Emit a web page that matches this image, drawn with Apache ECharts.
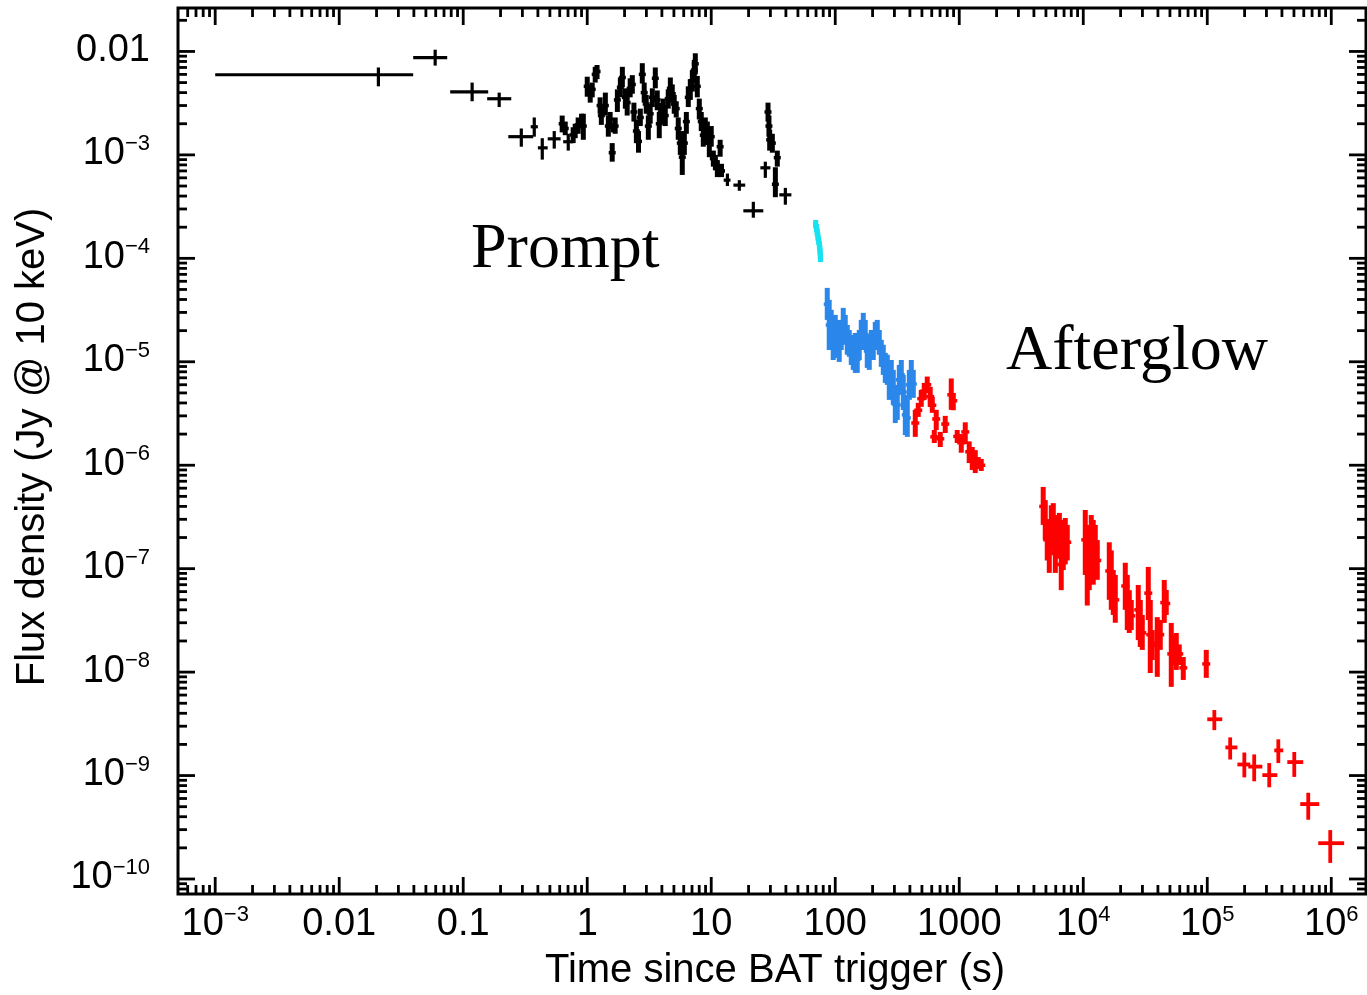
<!DOCTYPE html>
<html>
<head>
<meta charset="utf-8">
<script src="https://cdn.jsdelivr.net/npm/echarts@6/dist/echarts.min.js"></script>
<style>
  html, body { margin: 0; padding: 0; background: #fff; }
  #chart { width: 1367px; height: 995px; }
</style>
</head>
<body>
<div id="chart"></div>
<script>
// Binned points: [time, timeLow, timeHigh, flux, fluxLow, fluxHigh]
const promptBins = [
  [0.0207, 0.001, 0.0395, 5.95e-3, 4.6e-3, 7.0e-3],
  [0.0594, 0.0395, 0.0743, 8.7e-3, 7.3e-3, 1.04e-2],
  [0.118, 0.0785, 0.159, 4.07e-3, 3.3e-3, 5.0e-3],
  [0.195, 0.156, 0.244, 3.49e-3, 2.9e-3, 4.0e-3],
  [0.294, 0.231, 0.367, 1.50e-3, 1.2e-3, 1.8e-3],
  [0.374, 0.35, 0.40, 1.87e-3, 1.5e-3, 2.3e-3],
  [0.434, 0.40, 0.48, 1.17e-3, 0.9e-3, 1.45e-3],
  [0.542, 0.48, 0.61, 1.43e-3, 1.15e-3, 1.7e-3],
  [0.703, 0.64, 0.77, 1.34e-3, 1.1e-3, 1.6e-3],
  [13.5, 12.6, 14.3, 5.7e-4, 5.0e-4, 6.6e-4],
  [16.85, 15.1, 18.8, 5.1e-4, 4.5e-4, 5.7e-4],
  [21.85, 18.15, 26.3, 2.88e-4, 2.47e-4, 3.52e-4],
  [27.3, 24.9, 30.0, 7.5e-4, 6.0e-4, 8.6e-4],
  [39.6, 35.4, 44.3, 4.11e-4, 3.3e-4, 4.8e-4]
];

// Fine time resolution points: [time, flux, fluxLow, fluxHigh]
const promptFine = [
  [0.628, 2.0e-3, 1.65e-3, 2.4e-3], [0.665, 1.8e-3, 1.55e-3, 2.1e-3],
  [0.77, 1.56e-3, 1.30e-3, 1.85e-3], [0.80, 1.75e-3, 1.45e-3, 2.0e-3],
  [0.845, 1.95e-3, 1.6e-3, 2.3e-3], [0.90, 2.1e-3, 1.8e-3, 2.5e-3],
  [0.93, 1.9e-3, 1.4e-3, 2.5e-3], [1.00, 4.6e-3, 3.65e-3, 5.7e-3],
  [1.057, 3.9e-3, 3.2e-3, 4.6e-3], [1.097, 4.3e-3, 3.6e-3, 5.0e-3],
  [1.16, 6.0e-3, 5.0e-3, 7.1e-3], [1.20, 6.4e-3, 5.4e-3, 7.4e-3],
  [1.27, 3.0e-3, 2.5e-3, 3.6e-3], [1.30, 2.4e-3, 1.95e-3, 2.9e-3],
  [1.40, 3.0e-3, 2.4e-3, 4.0e-3], [1.48, 1.9e-3, 1.5e-3, 2.4e-3],
  [1.53, 2.2e-3, 1.8e-3, 2.6e-3], [1.59, 1.05e-3, 8.6e-4, 1.3e-3],
  [1.62, 1.85e-3, 1.65e-3, 2.05e-3], [1.68, 1.9e-3, 1.6e-3, 2.3e-3],
  [1.75, 3.4e-3, 2.6e-3, 4.3e-3], [1.85, 4.5e-3, 3.6e-3, 5.6e-3],
  [1.92, 5.6e-3, 4.5e-3, 7.1e-3], [2.03, 3.6e-3, 2.8e-3, 4.4e-3],
  [2.10, 3.2e-3, 2.4e-3, 4.2e-3], [2.22, 4.4e-3, 3.6e-3, 5.5e-3],
  [2.31, 4.8e-3, 3.9e-3, 5.9e-3], [2.38, 2.6e-3, 2.1e-3, 3.2e-3],
  [2.49, 1.7e-3, 1.3e-3, 2.2e-3], [2.59, 1.35e-3, 1.05e-3, 1.7e-3],
  [2.68, 2.3e-3, 1.9e-3, 2.8e-3], [2.78, 6.0e-3, 4.9e-3, 7.7e-3],
  [2.88, 4.0e-3, 3.2e-3, 5.0e-3], [2.99, 3.1e-3, 2.5e-3, 3.8e-3],
  [3.11, 1.9e-3, 1.4e-3, 2.4e-3], [3.22, 2.5e-3, 2.0e-3, 3.1e-3],
  [3.35, 3.6e-3, 2.9e-3, 4.4e-3], [3.54, 5.5e-3, 4.4e-3, 7.0e-3],
  [3.67, 3.4e-3, 2.7e-3, 4.2e-3], [3.81, 2.0e-3, 1.45e-3, 2.6e-3],
  [3.96, 2.6e-3, 2.0e-3, 3.2e-3], [4.11, 2.9e-3, 2.3e-3, 3.5e-3],
  [4.26, 2.4e-3, 1.9e-3, 3.0e-3], [4.50, 3.5e-3, 2.8e-3, 4.3e-3],
  [4.68, 4.4e-3, 3.6e-3, 5.6e-3], [4.85, 3.9e-3, 3.2e-3, 4.8e-3],
  [5.03, 3.1e-3, 2.5e-3, 3.8e-3], [5.22, 2.8e-3, 2.3e-3, 3.3e-3],
  [5.42, 1.8e-3, 1.4e-3, 2.3e-3], [5.63, 1.3e-3, 1.0e-3, 1.7e-3],
  [5.84, 9.5e-4, 6.4e-4, 1.3e-3], [6.07, 1.3e-3, 1.0e-3, 1.7e-3],
  [6.30, 2.1e-3, 1.6e-3, 2.6e-3], [6.53, 3.6e-3, 2.9e-3, 4.6e-3],
  [6.78, 4.3e-3, 3.4e-3, 5.4e-3], [7.04, 5.2e-3, 4.1e-3, 6.6e-3],
  [7.30, 6.6e-3, 5.2e-3, 8.3e-3], [7.44, 7.6e-3, 6.0e-3, 9.6e-3],
  [7.72, 4.6e-3, 3.6e-3, 5.8e-3], [8.01, 2.8e-3, 2.2e-3, 3.5e-3],
  [8.31, 2.1e-3, 1.7e-3, 2.6e-3], [8.63, 1.55e-3, 1.2e-3, 1.9e-3],
  [8.96, 1.9e-3, 1.5e-3, 2.3e-3], [9.30, 1.65e-3, 1.25e-3, 2.1e-3],
  [9.65, 1.3e-3, 9.5e-4, 1.7e-3], [10.0, 1.5e-3, 1.2e-3, 1.9e-3],
  [10.4, 9.2e-4, 7.7e-4, 1.1e-3], [10.8, 8.5e-4, 7.1e-4, 1.0e-3],
  [11.2, 7.4e-4, 6.1e-4, 8.9e-4], [11.8, 1.2e-3, 9.6e-4, 1.4e-3],
  [12.1, 7.0e-4, 6.1e-4, 8.2e-4], [28.7, 2.6e-3, 2.1e-3, 3.2e-3],
  [29.2, 1.9e-3, 1.5e-3, 2.4e-3], [29.6, 1.4e-3, 1.1e-3, 1.75e-3],
  [31.1, 1.3e-3, 1.05e-3, 1.6e-3], [32.9, 5.2e-4, 3.9e-4, 7.6e-4],
  [34.1, 9.4e-4, 7.7e-4, 1.1e-3]
];

// XRT windowed timing, settling phase: [time, flux, fluxLow, fluxHigh]
const wtSettling = [
  [69.5, 2.15e-4, 1.95e-4, 2.35e-4], [70.5, 1.97e-4, 1.8e-4, 2.15e-4],
  [71.5, 1.80e-4, 1.64e-4, 1.97e-4], [72.5, 1.62e-4, 1.48e-4, 1.78e-4],
  [73.5, 1.48e-4, 1.35e-4, 1.62e-4], [74.5, 1.35e-4, 1.23e-4, 1.48e-4],
  [75.2, 1.22e-4, 1.11e-4, 1.34e-4], [75.7, 1.10e-4, 1.0e-4, 1.21e-4],
  [76.0, 1.0e-4, 9.2e-5, 1.09e-4]
];

// XRT windowed timing: [time, flux, fluxLow, fluxHigh]
const wtData = [
  [86.2, 3.6e-5, 2.54e-5, 5.18e-5], [89.4, 2.27e-5, 1.30e-5, 3.97e-5],
  [92.8, 2.15e-5, 1.46e-5, 3.18e-5], [96.3, 1.63e-5, 1.04e-5, 2.54e-5],
  [100.0, 2.03e-5, 1.46e-5, 2.84e-5], [103.8, 1.49e-5, 1.09e-5, 2.03e-5],
  [107.7, 1.6e-5, 9.97e-6, 2.54e-5], [111.8, 1.74e-5, 1.30e-5, 2.27e-5],
  [116.0, 2.43e-5, 1.74e-5, 3.32e-5], [120.4, 2.03e-5, 1.46e-5, 2.84e-5],
  [125.0, 1.63e-5, 1.17e-5, 2.27e-5], [129.7, 1.52e-5, 1.12e-5, 2.03e-5],
  [134.6, 1.30e-5, 9.33e-6, 1.82e-5], [139.7, 1.17e-5, 8.35e-6, 1.63e-5],
  [145.0, 1.22e-5, 7.81e-6, 1.90e-5], [150.5, 1.06e-5, 7.81e-6, 1.46e-5],
  [156.2, 1.46e-5, 1.04e-5, 2.03e-5], [162.1, 1.82e-5, 1.30e-5, 2.54e-5],
  [168.3, 2.12e-5, 1.52e-5, 2.97e-5], [174.6, 1.82e-5, 1.30e-5, 2.54e-5],
  [181.2, 1.27e-5, 8.73e-6, 1.82e-5], [188.1, 1.17e-5, 8.35e-6, 1.63e-5],
  [195.2, 1.49e-5, 1.09e-5, 2.03e-5], [202.6, 1.43e-5, 1.04e-5, 1.90e-5],
  [210.3, 1.78e-5, 1.30e-5, 2.43e-5], [218.2, 1.82e-5, 1.30e-5, 2.54e-5],
  [226.5, 1.56e-5, 1.17e-5, 2.03e-5], [235.1, 1.22e-5, 8.93e-6, 1.63e-5],
  [244.0, 1.04e-5, 7.47e-6, 1.46e-5], [253.2, 8.73e-6, 6.25e-6, 1.22e-5],
  [262.8, 8.35e-6, 5.98e-6, 1.17e-5], [272.7, 6.4e-6, 4.28e-6, 9.33e-6],
  [283.1, 7.1e-6, 4.78e-6, 1.04e-5], [293.8, 5.7e-6, 3.83e-6, 8.35e-6],
  [304.9, 3.9e-6, 2.56e-6, 5.98e-6], [316.4, 3.83e-6, 2.74e-6, 5.35e-6],
  [328.4, 6.7e-6, 4.78e-6, 9.33e-6], [340.9, 7.47e-6, 5.35e-6, 1.04e-5],
  [353.8, 5.1e-6, 3.42e-6, 7.47e-6], [367.2, 3.07e-6, 1.96e-6, 4.78e-6],
  [381.1, 2.87e-6, 1.88e-6, 4.28e-6], [395.5, 5.98e-6, 4.28e-6, 8.35e-6],
  [410.5, 7.1e-6, 4.78e-6, 1.04e-5], [426.0, 6.1e-6, 4.48e-6, 8.35e-6]
];

// XRT photon counting, fine bins: [time, flux, fluxLow, fluxHigh]
const pcFine = [
  [442, 2.56e-6, 1.88e-6, 3.43e-6], [467, 3.4e-6, 2.93e-6, 4.01e-6],
  [494, 4.4e-6, 3.67e-6, 5.35e-6], [522, 5.2e-6, 4.28e-6, 6.25e-6],
  [552, 6.0e-6, 5.0e-6, 7.2e-6], [583, 4.6e-6, 3.67e-6, 5.72e-6],
  [606, 3.8e-6, 3.21e-6, 4.58e-6], [629, 1.88e-6, 1.64e-6, 2.19e-6],
  [652, 2.8e-6, 2.19e-6, 3.43e-6], [703, 1.8e-6, 1.5e-6, 2.1e-6],
  [771, 2.5e-6, 2.05e-6, 3.0e-6], [862, 4.8e-6, 3.43e-6, 6.9e-6],
  [895, 4.2e-6, 3.4e-6, 5.0e-6], [963, 1.9e-6, 1.64e-6, 2.19e-6],
  [1038, 1.65e-6, 1.32e-6, 2.0e-6], [1118, 2.1e-6, 1.6e-6, 2.6e-6],
  [1203, 1.35e-6, 1.05e-6, 1.7e-6], [1273, 1.2e-6, 9.0e-7, 1.5e-6],
  [1346, 1.1e-6, 8.4e-7, 1.4e-6], [1422, 1.05e-6, 9.2e-7, 1.2e-6],
  [1505, 1.0e-6, 8.8e-7, 1.15e-6],
  [4753, 4.0e-7, 2.65e-7, 6.17e-7], [4937, 2.9e-7, 1.89e-7, 4.6e-7],
  [5125, 1.9e-7, 1.2e-7, 2.96e-7], [5321, 1.45e-7, 9.1e-8, 2.37e-7],
  [5524, 2.5e-7, 1.5e-7, 4.1e-7], [5734, 2.7e-7, 1.7e-7, 4.3e-7],
  [5953, 1.4e-7, 9.1e-8, 2.1e-7], [6180, 2.1e-7, 1.25e-7, 3.3e-7],
  [6415, 2.2e-7, 1.38e-7, 3.46e-7], [6645, 1.1e-7, 6.2e-8, 1.89e-7],
  [6897, 1.6e-7, 9.7e-8, 2.96e-7], [7161, 1.8e-7, 1.1e-7, 3.09e-7],
  [7430, 1.8e-7, 1.2e-7, 2.65e-7],
  [10380, 1.9e-7, 8.7e-8, 3.69e-7], [10770, 1.1e-7, 4.4e-8, 2.65e-7],
  [11180, 1.2e-7, 6.2e-8, 2.37e-7], [11600, 1.6e-7, 7.8e-8, 3.3e-7],
  [12040, 1.5e-7, 7.0e-8, 2.96e-7], [12500, 1.6e-7, 9.7e-8, 2.65e-7],
  [12970, 1.2e-7, 7.8e-8, 1.89e-7],
  [16210, 9.5e-8, 5.0e-8, 1.8e-7], [16820, 7.5e-8, 4.0e-8, 1.5e-7],
  [17460, 5.8e-8, 3.57e-8, 9.7e-8], [18120, 5.0e-8, 3.0e-8, 8.7e-8],
  [21820, 6.8e-8, 4.0e-8, 1.14e-7], [22640, 5.0e-8, 2.55e-8, 8.7e-8],
  [23500, 3.9e-8, 2.39e-8, 6.2e-8], [24380, 3.5e-8, 2.55e-8, 4.98e-8],
  [27760, 4.0e-8, 2.04e-8, 6.96e-8], [28820, 3.0e-8, 1.75e-8, 4.98e-8],
  [29910, 2.4e-8, 1.64e-8, 3.57e-8],
  [33440, 5.8e-8, 3.19e-8, 1.04e-7], [34700, 2.3e-8, 9.8e-9, 4.98e-8],
  [36010, 1.9e-8, 1.31e-8, 2.55e-8], [39520, 1.8e-8, 9.0e-9, 3.4e-8],
  [41780, 2.3e-8, 1.64e-8, 3.19e-8], [44990, 4.7e-8, 2.99e-8, 7.78e-8],
  [46690, 4.6e-8, 3.57e-8, 6.22e-8], [51250, 1.5e-8, 7.2e-9, 2.99e-8],
  [53190, 1.6e-8, 1.17e-8, 2.28e-8], [56250, 1.5e-8, 1.05e-8, 2.39e-8],
  [59450, 1.5e-8, 1.17e-8, 1.85e-8], [64050, 1.1e-8, 8.4e-9, 1.4e-8],
  [98150, 1.2e-8, 8.8e-9, 1.64e-8]
];

// XRT photon counting, late wide bins: [time, timeLow, timeHigh, flux, fluxLow, fluxHigh]
const pcBins = [
  [1.14e5, 1.0e5, 1.32e5, 3.5e-9, 2.75e-9, 4.3e-9],
  [1.53e5, 1.40e5, 1.75e5, 1.87e-9, 1.43e-9, 2.34e-9],
  [1.99e5, 1.75e5, 2.22e5, 1.28e-9, 9.6e-10, 1.67e-9],
  [2.39e5, 2.14e5, 2.78e5, 1.22e-9, 8.8e-10, 1.60e-9],
  [3.16e5, 2.78e5, 3.67e5, 1.01e-9, 7.7e-10, 1.32e-9],
  [3.74e5, 3.47e5, 4.10e5, 1.75e-9, 1.32e-9, 2.24e-9],
  [5.03e5, 4.42e5, 5.94e5, 1.35e-9, 9.7e-10, 1.69e-9],
  [6.52e5, 5.62e5, 8.0e5, 5.3e-10, 3.74e-10, 6.82e-10],
  [9.81e5, 7.85e5, 1.27e6, 2.22e-10, 1.43e-10, 2.97e-10]
];

// Axis ranges and labelled ticks
const xRange = [Math.pow(10, -3.3), Math.pow(10, 6.28)];
const yRange = [Math.pow(10, -10.145), Math.pow(10, -1.58)];
const xMajor = [1e-3, 1e-2, 0.1, 1, 10, 100, 1000, 1e4, 1e5, 1e6];
const xTickLabels = ['10^−3', '0.01', '0.1', '1', '10', '100', '1000', '10^4', '10^5', '10^6'];
const yMajor = [1e-2, 1e-3, 1e-4, 1e-5, 1e-6, 1e-7, 1e-8, 1e-9, 1e-10];
const yTickLabels = ['0.01', '10^−3', '10^−4', '10^−5', '10^−6', '10^−7', '10^−8', '10^−9', '10^−10'];

const FONT = "'Liberation Sans', Arial, Helvetica, sans-serif";
const SERIF = "'Liberation Serif', 'Times New Roman', serif";

// Minor log ticks (2..9 x 10^n) that fall inside an axis range
function minorTicks(range) {
  const out = [];
  const d0 = Math.floor(Math.log10(range[0])), d1 = Math.ceil(Math.log10(range[1]));
  for (let d = d0; d <= d1; d++) {
    for (let m = 2; m <= 9; m++) {
      const v = m * Math.pow(10, d);
      if (v > range[0] && v < range[1]) out.push(v);
    }
  }
  return out;
}

const xTickData = xMajor.map(v => [v, yRange[0], 1]).concat(minorTicks(xRange).map(v => [v, yRange[0], 0]));
const yTickData = yMajor.map(v => [xRange[0], v, 1]).concat(minorTicks(yRange).map(v => [xRange[0], v, 0]));

const MAJOR_LEN = 17, MINOR_LEN = 9, TICK_W = 2.8;

function richText(s) {
  const p = s.split('^');
  return p.length > 1 ? '{b|' + p[0] + '}{s|' + p[1] + '}' : '{b|' + s + '}';
}
const labelRich = {
  b: { fontSize: 38, fontFamily: FONT, fill: '#000', lineHeight: 42 },
  s: { fontSize: 22, fontFamily: FONT, fill: '#000', verticalAlign: 'top', lineHeight: 30 }
};

function line(x1, y1, x2, y2, color, w) {
  return { type: 'line', shape: { x1, y1, x2, y2 }, style: { stroke: color, lineWidth: w } };
}

function renderXTick(params, api) {
  const cs = params.coordSys;
  const x = api.coord([api.value(0), api.value(1)])[0];
  const len = api.value(2) ? MAJOR_LEN : MINOR_LEN;
  const top = cs.y, bot = cs.y + cs.height;
  return { type: 'group', children: [
    line(x, bot, x, bot - len, '#000', TICK_W),
    line(x, top, x, top + len, '#000', TICK_W)
  ] };
}
function renderYTick(params, api) {
  const cs = params.coordSys;
  const y = api.coord([api.value(0), api.value(1)])[1];
  const len = api.value(2) ? MAJOR_LEN : MINOR_LEN;
  const l = cs.x, r = cs.x + cs.width;
  return { type: 'group', children: [
    line(l, y, l + len, y, '#000', TICK_W),
    line(r, y, r - len, y, '#000', TICK_W)
  ] };
}
function renderXLabel(params, api) {
  const cs = params.coordSys;
  const x = api.coord([api.value(0), api.value(1)])[0];
  return { type: 'text', x: x, y: cs.y + cs.height + 31,
    style: { text: richText(xTickLabels[params.dataIndex]), rich: labelRich, align: 'center', verticalAlign: 'middle' } };
}
function renderYLabel(params, api) {
  const cs = params.coordSys;
  const y = api.coord([api.value(0), api.value(1)])[1];
  return { type: 'text', x: cs.x - 28, y: y - 1,
    style: { text: richText(yTickLabels[params.dataIndex]), rich: labelRich, align: 'right', verticalAlign: 'middle' } };
}

// Cross-shaped error bars spanning the time bin and the flux interval
function binRenderer(color, w) {
  return function (params, api) {
    const t = api.value(0), tl = api.value(1), th = api.value(2);
    const f = api.value(3), fl = api.value(4), fh = api.value(5);
    const a = api.coord([tl, f]), b = api.coord([th, f]);
    const c = api.coord([t, fl]), d = api.coord([t, fh]);
    return { type: 'group', children: [
      line(a[0], a[1], b[0], b[1], color, w),
      line(c[0], c[1], d[0], d[1], color, w)
    ] };
  };
}
// Vertical flux error bar with a short horizontal stroke at the flux value
function fineRenderer(color, w, cap) {
  return function (params, api) {
    const t = api.value(0), f = api.value(1), fl = api.value(2), fh = api.value(3);
    const c = api.coord([t, fl]), d = api.coord([t, fh]), m = api.coord([t, f]);
    return { type: 'group', children: [
      line(c[0], c[1], d[0], d[1], color, w),
      line(m[0] - cap, m[1], m[0] + cap, m[1], color, 3.5)
    ] };
  };
}

const chart = echarts.init(document.getElementById('chart'), null, { renderer: 'canvas' });
chart.setOption({
  animation: false,
  backgroundColor: '#fff',
  grid: { left: 178, top: 8, width: 1188, height: 886, show: true, borderColor: '#000', borderWidth: 3, backgroundColor: 'transparent' },
  xAxis: { type: 'log', logBase: 10, min: xRange[0], max: xRange[1], show: false },
  yAxis: { type: 'log', logBase: 10, min: yRange[0], max: yRange[1], show: false },
  graphic: [
    { type: 'text', x: 775, y: 971, style: { text: 'Time since BAT trigger (s)', font: '40px ' + FONT, fill: '#000', align: 'center', verticalAlign: 'middle' } },
    { type: 'text', x: 33, y: 447, rotation: Math.PI / 2, style: { text: 'Flux density (Jy @ 10 keV)', font: '40px ' + FONT, fill: '#000', align: 'center', verticalAlign: 'middle' } },
    { type: 'text', x: 471, y: 250, style: { text: 'Prompt', font: '64px ' + SERIF, fill: '#000', align: 'left', verticalAlign: 'middle' } },
    { type: 'text', x: 1006, y: 352, style: { text: 'Afterglow', font: '64px ' + SERIF, fill: '#000', align: 'left', verticalAlign: 'middle' } }
  ],
  series: [
    { type: 'custom', name: 'xTicks', data: xTickData, encode: { x: 0, y: 1 }, renderItem: renderXTick, silent: true },
    { type: 'custom', name: 'yTicks', data: yTickData, encode: { x: 0, y: 1 }, renderItem: renderYTick, silent: true },
    { type: 'custom', name: 'xLabels', data: xMajor.map(v => [v, yRange[0]]), encode: { x: 0, y: 1 }, renderItem: renderXLabel, silent: true },
    { type: 'custom', name: 'yLabels', data: yMajor.map(v => [xRange[0], v]), encode: { x: 0, y: 1 }, renderItem: renderYLabel, silent: true },
    { type: 'custom', name: 'BAT binned', data: promptBins, encode: { x: 0, y: 3 }, renderItem: binRenderer('#000', 3.2) },
    { type: 'custom', name: 'BAT', data: promptFine, encode: { x: 0, y: 1 }, renderItem: fineRenderer('#000', 5, 3.5) },
    { type: 'custom', name: 'WT settling', data: wtSettling, encode: { x: 0, y: 1 }, renderItem: fineRenderer('#17e2f0', 5, 2.5) },
    { type: 'custom', name: 'WT', data: wtData, encode: { x: 0, y: 1 }, renderItem: fineRenderer('#2b87ea', 5, 3.5) },
    { type: 'custom', name: 'PC', data: pcFine, encode: { x: 0, y: 1 }, renderItem: fineRenderer('#ff0000', 5, 4) },
    { type: 'custom', name: 'PC binned', data: pcBins, encode: { x: 0, y: 3 }, renderItem: binRenderer('#ff0000', 3.8) }
  ]
});
</script>
</body>
</html>
